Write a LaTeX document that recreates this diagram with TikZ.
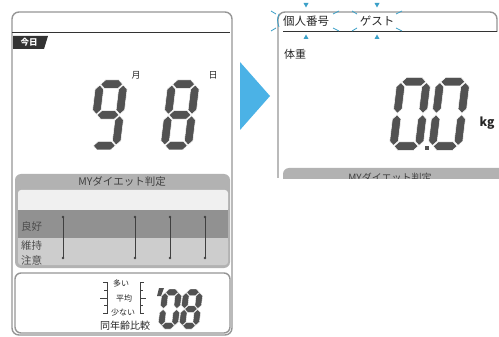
\documentclass[tikz,border=0pt]{standalone}
\usepackage{fontspec}
\newfontfamily\jp{Noto Sans CJK JP}
\usetikzlibrary{calc,positioning}

\definecolor{lcdgray}{RGB}{82,82,82}
\definecolor{framegray}{RGB}{150,150,150}
\definecolor{bandgray}{RGB}{178,178,178}
\definecolor{banddark}{RGB}{145,145,145}
\definecolor{bandlight}{RGB}{205,205,205}
\definecolor{arrowblue}{RGB}{75,178,230}
\definecolor{blinkblue}{RGB}{60,160,200}

\tikzset{
  frameline/.style={draw=framegray, line width=1.4pt},
  segfill/.style={fill=lcdgray, draw=white, line width=0.5pt},
  jplabel/.style={font=\jp, inner sep=0pt, text=black!85},
  blink/.style={draw=blinkblue, line width=0.8pt},
  blinktip/.style={fill=blinkblue},
}

% one segment, horizontal (y, x1, x2) or vertical (x, y1, y2)
\def\sgap{0.8}
\newcommand{\hsegm}[3]{%
  \fill[segfill] ({#2+\sgap},{#1}) -- ({#2+\sgap+\sth/2},{#1-\sth/2})
    -- ({#3-\sgap-\sth/2},{#1-\sth/2}) -- ({#3-\sgap},{#1})
    -- ({#3-\sgap-\sth/2},{#1+\sth/2}) -- ({#2+\sgap+\sth/2},{#1+\sth/2}) -- cycle;}
\newcommand{\vsegm}[3]{%
  \fill[segfill] ({#1},{#2+\sgap}) -- ({#1+\sth/2},{#2+\sgap+\sth/2})
    -- ({#1+\sth/2},{#3-\sgap-\sth/2}) -- ({#1},{#3-\sgap})
    -- ({#1-\sth/2},{#3-\sgap-\sth/2}) -- ({#1-\sth/2},{#2+\sgap+\sth/2}) -- cycle;}
\newcommand{\lcdsega}{\hsegm{\yT}{\xL}{\xR}}
\newcommand{\lcdsegb}{\vsegm{\xR}{\yT}{0}}
\newcommand{\lcdsegc}{\vsegm{\xR}{0}{\yB}}
\newcommand{\lcdsegd}{\hsegm{\yB}{\xL}{\xR}}
\newcommand{\lcdsege}{\vsegm{\xL}{0}{\yB}}
\newcommand{\lcdsegf}{\vsegm{\xL}{\yT}{0}}
\newcommand{\lcdsegg}{\hsegm{0}{\xL}{\xR}}
% digit: centre x, centre y, width, height, thickness, segments
\newcommand{\lcddigit}[6]{%
  \begin{scope}[shift={(#1,#2)}, xslant=0.12]
    \pgfmathsetmacro\sth{#5}
    \pgfmathsetmacro\xR{(#3-#5)/2}
    \pgfmathsetmacro\xL{-\xR}
    \pgfmathsetmacro\yB{(#4-#5)/2}
    \pgfmathsetmacro\yT{-\yB}
    \foreach \s in {#6} {\csname lcdseg\s\endcsname}
  \end{scope}}

\begin{document}
\begin{tikzpicture}[x=1pt, y=-1pt]
  \useasboundingbox[fill=white] (0,0) rectangle (499,337);

  % left display
  \draw[frameline, rounded corners=7] (12,12) rectangle (232,335);
  \draw[black!80, line width=0.8pt] (12,32) -- (230,32);
  \fill[black!80] (13,36) -- (48,36) -- (44,49) -- (13,49) -- cycle;
  \node[font=\jp\bfseries, text=white, inner sep=0pt, scale=0.85]
      (today) at (29,42.5) {今日};
  \node[jplabel, font=\jp\fontsize{9}{9}\selectfont] (month) at (136,75) {月};
  \node[jplabel, font=\jp\fontsize{9}{9}\selectfont] (day) at (213,75) {日};
  \lcddigit{108}{115}{32}{70}{8.5}{a,b,c,d,f,g}
  \lcddigit{180}{115}{32}{70}{8.5}{a,b,c,d,e,f,g}

  % diet judgement band
  \fill[bandgray, rounded corners=6] (15,174) rectangle (230,268);
  \fill[white!94!black, rounded corners=3] (18,190) rectangle (228,212);
  \fill[white!94!black] (18,200) rectangle (228,210);
  \fill[banddark] (18,210) rectangle (228,238);
  \fill[bandlight, rounded corners=3] (18,238) rectangle (228,265);
  \fill[bandlight] (18,238) rectangle (228,250);
  \node[jplabel, font=\jp\fontsize{10.5}{10.5}\selectfont, text=black!75]
      (diettitle) at (122,182) {MYダイエット判定};
  \node[jplabel, anchor=west, font=\jp\fontsize{10.5}{10.5}\selectfont, text=black!70]
      (good) at (21,227) {良好};
  \node[jplabel, anchor=west, font=\jp\fontsize{10.5}{10.5}\selectfont, text=black!70]
      (keep) at (21,246) {維持};
  \node[jplabel, anchor=west, font=\jp\fontsize{10.5}{10.5}\selectfont, text=black!70]
      (care) at (21,260) {注意};
  \foreach \x in {63,135,170,205} {
    \draw[black!75, line width=0.7pt] (\x,217) -- (\x,258);
    \fill[black!75] (\x,217) circle (1.4) (\x,258) circle (1.4);
  }

  % same age comparison
  \draw[frameline, rounded corners=6] (15,273) rectangle (230,333);
  \draw[black!75, line width=0.7pt]
    (103,282) -- (107,282) -- (107,313) -- (103,313)
    (104,290) -- (107,290) (100,298) -- (107,298) (104,305) -- (107,305);
  \draw[black!75, line width=0.7pt]
    (144,282) -- (140,282) -- (140,313) -- (144,313)
    (140,290) -- (143,290) (140,298) -- (146,298) (140,305) -- (143,305);
  \node[jplabel, font=\jp\fontsize{8}{8}\selectfont] (many) at (121,283) {多い};
  \node[jplabel, font=\jp\fontsize{8}{8}\selectfont] (avg) at (124,298) {平均};
  \node[jplabel, font=\jp\fontsize{8}{8}\selectfont] (few) at (123,312) {少ない};
  \node[jplabel, font=\jp\fontsize{10}{10}\selectfont] (agecmp) at (125,326) {同年齢比較};
  \fill[lcdgray] (159,288) -- (164,288) -- (161,296) -- (157,296) -- cycle;
  {\def\sgap{0.4}
  \tikzset{segfill/.append style={line width=0.35pt}}
  \lcddigit{170}{309}{20}{40}{6.5}{a,b,c,d,e,f}
  \lcddigit{191}{309}{20}{40}{6.5}{a,b,c,d,e,f,g}}

  % arrow between displays
  \fill[arrowblue] (240,62) -- (270,96) -- (240,130) -- cycle;

  % right display
  \draw[frameline, rounded corners=7] (278,178) -- (278,12) -- (497,12) -- (497,32);
  \draw[black!80, line width=0.8pt] (283,31) -- (497,31);
  \node[jplabel, font=\jp\fontsize{11.5}{11.5}\selectfont] (idlabel) at (306,21) {個人番号};
  \node[jplabel, font=\jp\fontsize{11.5}{11.5}\selectfont] (guest) at (377,21) {ゲスト};
  \foreach \c in {306,377} {
    \fill[blinktip] (\c-2.5,3) -- (\c+2.5,3) -- (\c,7.5) -- cycle;
    \fill[blinktip] (\c-2.5,39) -- (\c+2.5,39) -- (\c,34.5) -- cycle;
  }
  \draw[blink] (271,11) -- (276,14) (271,31) -- (276,28);
  \draw[blink] (279,14) .. controls (277,20) .. (279,27);
  \draw[blink] (333,14) -- (339,11) (333,28) -- (339,31);
  \draw[blink] (352,11) -- (357,14) (352,31) -- (357,28);
  \draw[blink] (396,14) -- (402,11) (396,28) -- (402,31);
  \node[jplabel, font=\jp\fontsize{11}{11}\selectfont] (weight) at (295,54) {体重};
  \lcddigit{410}{114}{34}{73}{8.5}{a,b,c,d,e,f}
  \lcddigit{449}{114}{34}{73}{8.5}{a,b,c,d,e,f}
  \fill[lcdgray] (424.5,146) rectangle (428.5,150);
  \node[jplabel, font=\jp\bfseries\fontsize{12}{12}\selectfont] (kg) at (487,123) {kg};
  \begin{scope}
    \clip (280,160) rectangle (499,179);
    \fill[bandgray, rounded corners=6] (283,168) rectangle (505,200);
    \node[jplabel, font=\jp\fontsize{10}{10}\selectfont, text=black!75]
        (diettitle2) at (390,178) {MYダイエット判定};
  \end{scope}
\end{tikzpicture}
\end{document}
